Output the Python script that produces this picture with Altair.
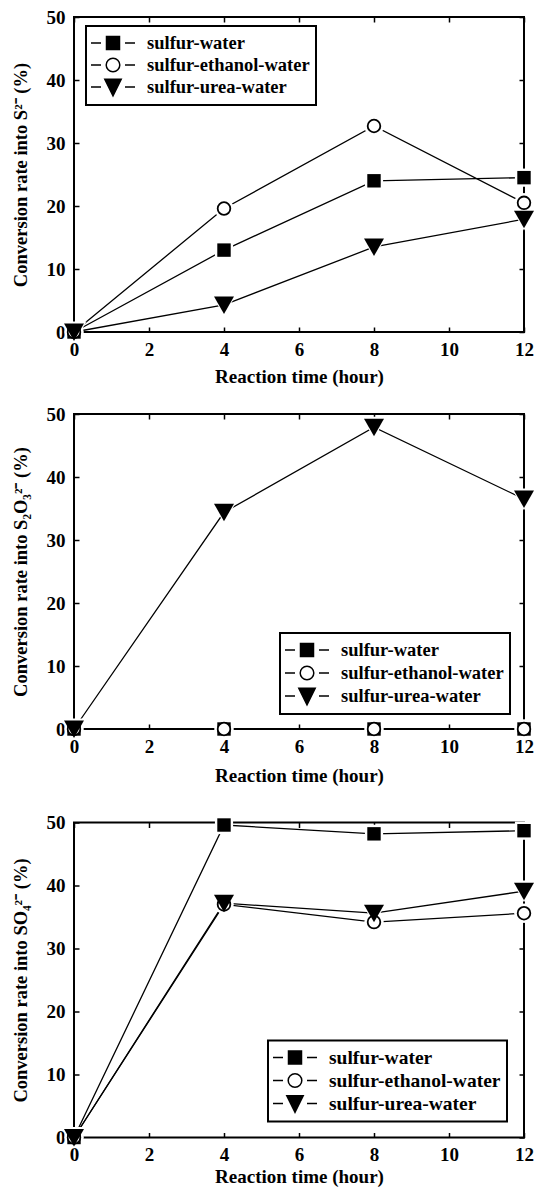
import altair as alt
import pandas as pd

# ---- data -------------------------------------------------------------
hours = [0, 4, 8, 12]
series_names = ["sulfur-water", "sulfur-ethanol-water", "sulfur-urea-water"]

# conversion rate into S2- (%)
s2_water = [0, 13.0, 24.0, 24.5]
s2_ethanol = [0, 19.6, 32.7, 20.5]
s2_urea = [0, 4.3, 13.5, 17.9]

# conversion rate into S2O3 2- (%)
s2o3_water = [0, 0, 0, 0]
s2o3_ethanol = [0, 0, 0, 0]
s2o3_urea = [0, 34.4, 47.9, 36.5]

# conversion rate into SO4 2- (%)
so4_water = [0, 49.6, 48.2, 48.7]
so4_ethanol = [0, 37.0, 34.2, 35.6]
so4_urea = [0, 37.2, 35.6, 39.1]

x_ticks = [0, 2, 4, 6, 8, 10, 12]
y_ticks = [0, 10, 20, 30, 40, 50]

# ---- style ------------------------------------------------------------
FONT = "Liberation Serif"
W, H = 450, 315

TRI = "M-1,-0.85L1,-0.85L0,0.9Z"
# legend symbols: short dash, marker, short dash
DASHES = "M-2.2,0H-1.2M1.2,0H2.2"
LEG_SQ = DASHES + "M-0.65,-0.65H0.65V0.65H-0.65Z"
LEG_CI = DASHES + "M0.68,0A0.68,0.68,0,1,1,-0.68,0A0.68,0.68,0,1,1,0.68,0Z"
LEG_TRI = DASHES + "M-0.82,-0.78L0.82,-0.78L0,0.88Z"


def label_x_axis(title_pad):
    return alt.Axis(orient="bottom", values=x_ticks, format="d", ticks=False,
                    domain=False, grid=False, labelFont=FONT, labelFontSize=19,
                    labelFontWeight="bold", labelColor="black", labelPadding=8,
                    labelFlush=False, labelOverlap=False,
                    title="Reaction time (hour)", titleFont=FONT, titleFontSize=19,
                    titleFontWeight="bold", titleColor="black",
                    titlePadding=title_pad)


def label_y_axis(title):
    return alt.Axis(orient="left", values=y_ticks, format="d", ticks=False,
                    domain=False, grid=False, labelFont=FONT, labelFontSize=19,
                    labelFontWeight="bold", labelColor="black", labelPadding=9,
                    labelFlush=False, labelOverlap=False,
                    title=title, titleFont=FONT, titleFontSize=18.5,
                    titleFontWeight="bold", titleColor="black", titlePadding=16)


def tick_axis(orient, offset, values):
    # inward ticks: an axis of the opposite side moved onto this edge
    return alt.Axis(orient=orient, offset=offset, values=values, labels=False,
                    domain=False, grid=False, ticks=True, tickSize=5,
                    tickWidth=1.5, tickColor="black", title=None)


def panel(y_title, water, ethanol, urea, title_pad, leg_x, leg_y, leg_font, row_pad):
    rows = []
    for name, vals in zip(series_names, [water, ethanol, urea]):
        for h, v in zip(hours, vals):
            rows.append({"hour": h, "rate": v, "series": name})
    df = pd.DataFrame(rows)
    base = alt.Chart(df)
    xs = alt.Scale(domain=[0, 12], nice=False, zero=False)
    ys = alt.Scale(domain=[0, 50], nice=False)

    lines = base.mark_line(color="black", strokeWidth=1.3).encode(
        x=alt.X("hour:Q", scale=xs, axis=label_x_axis(title_pad)),
        y=alt.Y("rate:Q", scale=ys, axis=label_y_axis(y_title)),
        detail="series:N",
    )

    def only(name):
        return base.transform_filter(alt.datum.series == name)

    # white halos leave a small gap between each line and its markers
    halo_w = only(series_names[0]).mark_point(
        shape="square", size=330, filled=True, color="white", opacity=1
    ).encode(
        x=alt.X("hour:Q", scale=xs, axis=tick_axis("top", -H, x_ticks)),
        y=alt.Y("rate:Q", scale=ys, axis=tick_axis("right", -W, y_ticks)),
    )
    halo_e = only(series_names[1]).mark_point(
        shape="circle", size=380, filled=True, color="white", opacity=1
    ).encode(
        x=alt.X("hour:Q", scale=xs, axis=tick_axis("bottom", -H, x_ticks)),
        y=alt.Y("rate:Q", scale=ys, axis=tick_axis("left", -W, y_ticks)),
    )
    halo_u = only(series_names[2]).mark_point(
        shape=TRI, size=620, filled=True, color="white", opacity=1
    ).encode(
        x=alt.X("hour:Q", scale=xs, axis=None),
        y=alt.Y("rate:Q", scale=ys, axis=None),
    )

    pts_w = only(series_names[0]).mark_point(
        shape="square", size=180, filled=True, color="black", opacity=1
    ).encode(x=alt.X("hour:Q", scale=xs, axis=None),
             y=alt.Y("rate:Q", scale=ys, axis=None))
    pts_e = only(series_names[1]).mark_point(
        shape="circle", size=160, filled=True, fill="white", stroke="black",
        strokeWidth=1.8, opacity=1
    ).encode(x=alt.X("hour:Q", scale=xs, axis=None),
             y=alt.Y("rate:Q", scale=ys, axis=None))
    pts_u = only(series_names[2]).mark_point(
        shape=TRI, size=400, filled=True, color="black", opacity=1
    ).encode(x=alt.X("hour:Q", scale=xs, axis=None),
             y=alt.Y("rate:Q", scale=ys, axis=None))

    leg = alt.Legend(title=None, orient="none", legendX=leg_x, legendY=leg_y,
                     direction="vertical", padding=6, strokeColor="black",
                     fillColor="white", symbolSize=400, symbolStrokeWidth=1.5,
                     symbolOffset=10, labelOffset=23, rowPadding=row_pad,
                     labelFont=FONT, labelFontSize=leg_font, labelFontWeight="bold",
                     labelColor="black", labelLimit=0)
    key = base.transform_filter("false").mark_point(
        opacity=1, strokeWidth=1.5, size=400, filled=True
    ).encode(
        shape=alt.Shape("series:N", scale=alt.Scale(
            domain=series_names, range=[LEG_SQ, LEG_CI, LEG_TRI]), legend=leg),
        fill=alt.Fill("series:N", scale=alt.Scale(
            domain=series_names, range=["black", "white", "black"]), legend=leg),
        stroke=alt.Stroke("series:N", scale=alt.Scale(
            domain=series_names, range=["black", "black", "black"]), legend=leg),
    )

    return alt.layer(
        lines, halo_w, halo_e, halo_u, pts_w, pts_e, pts_u, key
    ).resolve_axis(x="independent", y="independent").properties(width=W, height=H)


p1 = panel("Conversion rate into S²⁻ (%)", s2_water, s2_ethanol, s2_urea,
           8, 12, 9, 18.5, 1)
p2 = panel("Conversion rate into S₂O₃²⁻ (%)", s2o3_water, s2o3_ethanol, s2o3_urea,
           10.5, 206, 219, 18.5, 2)
p3 = panel("Conversion rate into SO₄²⁻ (%)", so4_water, so4_ethanol, so4_urea,
           2.5, 194, 218, 19.5, 2)

indep = dict(shape="independent", fill="independent", stroke="independent")
top_two = alt.vconcat(p1, p2, spacing=17).resolve_scale(**indep)
chart = alt.vconcat(top_two, p3, spacing=25.5).resolve_scale(**indep).properties(
    padding={"left": 10, "top": 7, "right": 0, "bottom": 0},
    background="white",
).configure_view(stroke="black", strokeWidth=2).configure_legend(strokeWidth=2)

chart.save("out.html", embed_options={"renderer": "svg", "actions": False})
